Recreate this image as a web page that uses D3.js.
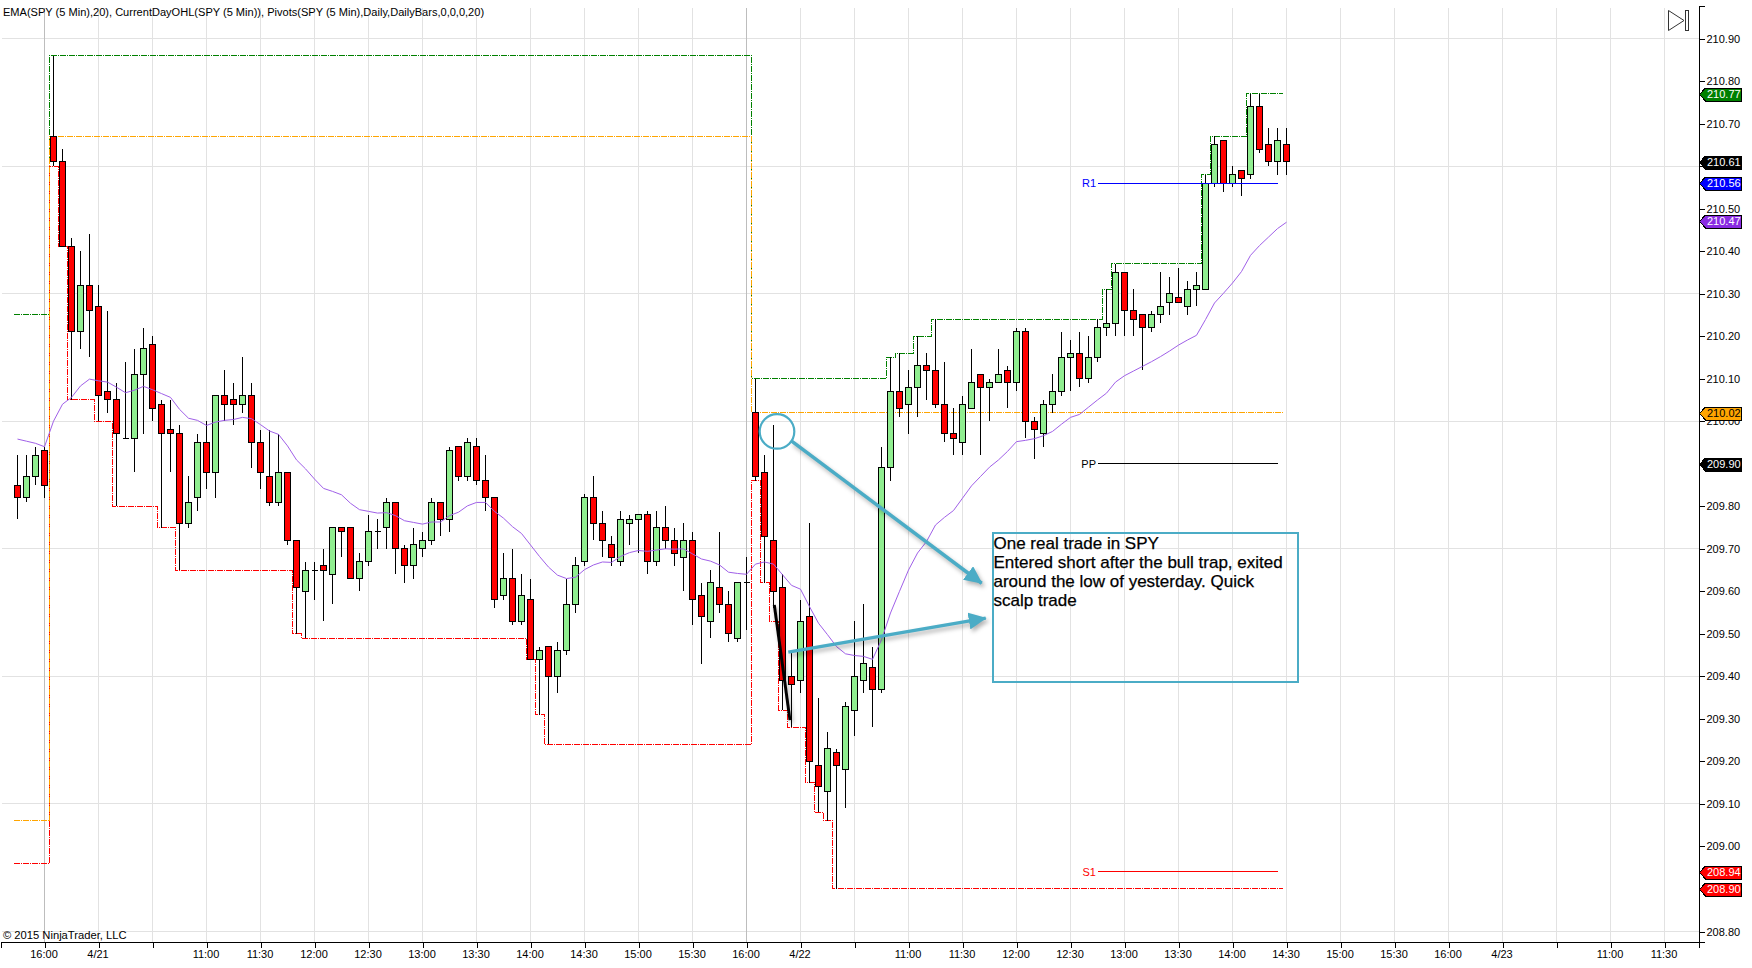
<!doctype html>
<html lang="en">
<head>
    <meta charset="UTF-8">
    <title>SPY 5 Min</title>
    <script src="https://cdnjs.cloudflare.com/ajax/libs/d3/7.8.5/d3.min.js"></script>
    <style>
        html, body {
            margin: 0;
            padding: 0;
            background: #fff;
            overflow: hidden;
        }
        text {
            font-family: "Liberation Sans", Arial, sans-serif;
            font-size: 11px;
        }
        .axis text { fill: #000; }
        .crisp { shape-rendering: crispEdges; }
    </style>
</head>
<body>
<svg id="chart" width="1752" height="968"></svg>
<script>
    // candles, one entry per 5 min bar
    const opens = [209.85,209.82,209.87,209.93,210.67,210.61,210.41,210.21,210.32,210.27,210.07,210.05,209.96,209.96,210.11,210.18,210.04,209.98,209.97,209.76,
        209.82,209.95,209.88,210.06,210.05,210.04,210.06,209.95,209.87,209.81,209.88,209.72,209.60,209.65,209.66,209.64,209.75,209.75,209.63,209.67,
        209.74,209.75,209.81,209.70,209.66,209.70,209.72,209.81,209.77,209.94,209.87,209.94,209.86,209.82,209.59,209.63,209.53,209.58,209.44,209.47,
        209.40,209.46,209.57,209.67,209.82,209.76,209.71,209.67,209.76,209.77,209.78,209.67,209.75,209.72,209.68,209.72,209.59,209.53,209.61,209.57,
        209.49,209.62,210.02,209.88,209.72,209.61,209.40,209.39,209.54,209.19,209.13,209.22,209.18,209.32,209.39,209.42,209.37,209.89,210.07,210.04,
        210.08,210.13,210.12,210.04,209.97,209.95,210.03,210.11,210.08,210.09,210.12,210.09,210.21,210.00,209.97,210.04,210.07,210.15,210.16,210.10,
        210.15,210.22,210.23,210.35,210.26,210.25,210.22,210.25,210.28,210.29,210.27,210.31,210.31,210.56,210.66,210.56,210.59,210.58,210.74,210.65,
        210.61,210.65];
    const highs = [209.92,209.92,209.94,209.94,210.86,210.64,210.43,210.40,210.44,210.32,210.26,210.09,210.14,210.17,210.22,210.20,210.05,210.05,209.99,209.87,
        209.97,210.00,210.06,210.12,210.09,210.15,210.09,209.98,209.98,209.97,209.88,209.72,209.67,209.67,209.70,209.75,209.75,209.75,209.69,209.78,
        209.77,209.82,209.81,209.71,209.75,209.74,209.82,209.81,209.94,209.94,209.96,209.96,209.92,209.82,209.69,209.70,209.64,209.63,209.47,209.47,
        209.48,209.63,209.68,209.83,209.87,209.79,209.73,209.79,209.78,209.78,209.79,209.79,209.80,209.75,209.76,209.74,209.62,209.65,209.74,209.60,
        209.62,209.68,210.10,209.92,209.99,209.64,209.46,209.58,209.76,209.35,209.27,209.23,209.34,209.53,209.57,209.47,209.94,210.15,210.16,210.12,
        210.20,210.16,210.24,210.14,210.03,210.06,210.17,210.11,210.10,210.17,210.13,210.22,210.22,210.01,210.05,210.11,210.21,210.19,210.21,210.20,
        210.24,210.31,210.37,210.35,210.31,210.25,210.26,210.35,210.34,210.36,210.33,210.35,210.58,210.67,210.66,210.60,210.59,210.77,210.77,210.69,
        210.69,210.69];
    const lows = [209.77,209.81,209.85,209.82,210.60,210.41,210.05,210.17,210.15,210.00,210.02,209.80,209.96,209.88,209.97,210.00,209.75,209.88,209.65,209.75,
        209.79,209.84,209.82,210.00,209.99,210.02,209.89,209.84,209.80,209.80,209.71,209.50,209.49,209.58,209.53,209.57,209.68,209.63,209.60,209.66,
        209.70,209.70,209.64,209.62,209.63,209.68,209.71,209.73,209.74,209.86,209.86,209.85,209.79,209.56,209.58,209.52,209.52,209.44,209.31,209.24,
        209.36,209.45,209.55,209.66,209.72,209.68,209.66,209.66,209.71,209.69,209.64,209.66,209.70,209.66,209.60,209.52,209.43,209.49,209.55,209.48,
        209.48,209.51,209.86,209.62,209.56,209.32,209.28,209.36,209.15,209.08,209.06,208.90,209.09,209.26,209.36,209.28,209.36,209.86,210.01,209.97,
        210.01,210.05,210.03,209.95,209.92,209.92,210.03,209.92,210.00,210.09,210.03,210.07,209.96,209.91,209.94,210.02,210.06,210.07,210.08,210.09,
        210.14,210.20,210.20,210.20,210.20,210.12,210.21,210.23,210.25,210.28,210.25,210.27,210.31,210.55,210.54,210.55,210.53,210.57,210.63,210.60,
        210.58,210.58];
    const closes = [209.82,209.87,209.92,209.85,210.61,210.41,210.21,210.32,210.26,210.06,210.05,209.97,209.96,210.11,210.17,210.03,209.97,209.97,209.76,209.81,
        209.95,209.88,210.06,210.04,210.04,210.06,209.95,209.88,209.81,209.88,209.72,209.61,209.65,209.65,209.65,209.75,209.74,209.63,209.67,209.74,
        209.74,209.81,209.70,209.66,209.71,209.72,209.81,209.77,209.93,209.87,209.95,209.86,209.82,209.58,209.63,209.53,209.59,209.44,209.46,209.40,
        209.46,209.57,209.66,209.82,209.76,209.72,209.68,209.77,209.77,209.78,209.67,209.75,209.72,209.69,209.72,209.58,209.54,209.62,209.57,209.50,
        209.62,209.62,209.87,209.73,209.60,209.39,209.38,209.53,209.20,209.14,209.23,209.19,209.33,209.40,209.43,209.37,209.89,210.07,210.03,210.08,
        210.13,210.12,210.04,209.97,209.96,210.04,210.09,210.08,210.09,210.11,210.09,210.21,210.00,209.98,210.04,210.07,210.15,210.16,210.10,210.15,
        210.22,210.23,210.35,210.26,210.24,210.22,210.25,210.27,210.30,210.28,210.31,210.32,210.56,210.65,210.56,210.58,210.57,210.74,210.64,210.61,
        210.66,210.61];
    const ema = [209.958,209.953,209.948,209.94,210.00,210.04,210.056,210.083,210.099,210.095,210.092,210.08,210.067,210.073,210.082,210.074,210.065,210.056,210.028,210.007,
        210.002,209.99,209.998,210.002,210.004,210.009,210.006,209.992,209.977,209.969,209.942,209.909,209.888,209.864,209.842,209.835,209.827,209.807,209.792,209.788,
        209.784,209.785,209.778,209.766,209.762,209.758,209.763,209.763,209.778,209.786,209.801,209.809,209.809,209.788,209.772,209.752,209.736,209.709,209.682,209.657,
        209.638,209.63,209.633,209.651,209.662,209.669,209.668,209.682,209.691,209.696,209.694,209.697,209.70,209.699,209.70,209.688,209.676,209.671,209.662,209.645,
        209.642,209.64,209.664,209.669,209.664,209.639,209.614,209.605,209.564,209.525,209.498,209.47,209.453,209.449,209.447,209.44,209.486,209.549,209.60,209.65,
        209.69,209.717,209.756,209.774,209.79,209.819,209.848,209.87,209.892,209.909,209.929,209.952,209.955,209.959,209.966,209.976,209.993,210.009,210.016,210.033,
        210.05,210.066,210.092,210.107,210.118,210.129,210.14,210.152,210.165,210.179,210.191,210.202,210.239,210.278,210.301,210.325,210.352,210.39,210.413,210.433,
        210.453,210.468];

    // CurrentDayOHL steps: bar where the level starts and its value
    const dayHighBars = [0,4,82,97,98,100,102,121,122,132,133,137];
    const dayHighVals = [210.25,210.86,210.10,210.15,210.16,210.20,210.24,210.31,210.37,210.58,210.67,210.77];
    const dayOpenBars = [0,4,82];
    const dayOpenVals = [209.06,210.67,210.02];
    const dayLowBars = [0,4,5,6,9,11,16,18,31,32,57,58,59,82,83,84,85,86,88,89,90,91];
    const dayLowVals = [208.96,210.60,210.41,210.05,210.00,209.80,209.75,209.65,209.50,209.49,209.44,209.31,209.24,209.86,209.62,209.53,209.32,209.28,209.15,209.08,209.06,208.90];
    const lastStepBar = 141;

    // pivots
    const pivotNames = ["R1", "PP", "S1"];
    const pivotVals = [210.56, 209.90, 208.94];
    const pivotColors = ["#0000ff", "#000000", "#ff0000"];
    const pivotBars = [120, 140];

    // axes
    const tickBars = [3,9,15,21,27,33,39,45,51,57,63,69,75,81,87,93,99,105,111,117,123,129,135,141,147,153,159,165,171,177,183];
    const tickNames = ["16:00","4/21","","11:00","11:30","12:00","12:30","13:00","13:30","14:00","14:30","15:00","15:30","16:00","4/22","",
        "11:00","11:30","12:00","12:30","13:00","13:30","14:00","14:30","15:00","15:30","16:00","4/23","","11:00","11:30"];
    const sessionBars = [3, 81];
    const priceTicks = d3.range(0, 22).map(i => +(208.8 + i * 0.1).toFixed(2));
    const gridPrices = [208.8, 209.1, 209.4, 209.7, 210.0, 210.3, 210.6, 210.9];

    // price markers on the axis
    const markerVals = [210.77, 210.61, 210.56, 210.47, 210.02, 209.90, 208.94, 208.90];
    const markerFill = ["#008000", "#000000", "#0000ff", "#8a2be2", "#ffa500", "#000000", "#ff0000", "#ff0000"];
    const markerText = ["#fff", "#fff", "#fff", "#fff", "#000", "#fff", "#fff", "#fff"];

    // drawn objects, in [bar, price]
    const circleAt = [84.39, 209.976];
    const blueArrows = [[[86.02, 209.953], [107.13, 209.619]], [[85.64, 209.457], [107.58, 209.537]]];
    const tradeLine = [[84.09, 209.568], [85.83, 209.297]];
    const noteBox = [[108.39, 209.737], [142.28, 209.387]];
    const noteLines = ["One real trade in SPY", "Entered short after the bull trap, exited", "around the low of yesterday. Quick", "scalp trade"];

    const titleText = "EMA(SPY (5 Min),20), CurrentDayOHL(SPY (5 Min)), Pivots(SPY (5 Min),Daily,DailyBars,0,0,0,20)";
    const copyText = "\u00a9 2015 NinjaTrader, LLC";

    const plotLeft = 1, plotRight = 1698.5, plotTop = 5.5, plotBottom = 941.5;
    const svg = d3.select("#chart");

    // one bar is 9px, 0.01 is about 4.25px
    const x = d3.scaleLinear()
        .domain([(plotLeft - 17.5) / 9, (plotRight - 17.5) / 9])
        .range([plotLeft, plotRight]);
    const y = d3.scaleLinear()
        .domain([210.9 - (plotBottom - 38.5) / 425.24, 210.9 + (38.5 - plotTop) / 425.24])
        .range([plotBottom, plotTop]);

    // grid
    const grid = svg.append("g").attr("class", "crisp");
    grid.selectAll(".h").data(gridPrices).enter().append("line")
        .attr("x1", 2).attr("x2", plotRight)
        .attr("y1", d => y(d)).attr("y2", d => y(d))
        .attr("stroke", "#e2e2e2");
    grid.selectAll(".v").data(tickBars).enter().append("line")
        .attr("x1", d => x(d)).attr("x2", d => x(d))
        .attr("y1", 8).attr("y2", plotBottom)
        .attr("stroke", d => sessionBars.includes(d) ? "#bdbdbd" : "#e2e2e2");

    // step line from level arrays
    function stepPath(bars, vals) {
        let d = "";
        bars.forEach((b, i) => {
            const x0 = x(b - 0.44);
            d += (i === 0 ? "M" : "L") + x0 + "," + y(vals[i]);
            const end = i < bars.length - 1 ? bars[i + 1] : lastStepBar;
            d += "L" + x(end - 0.44) + "," + y(vals[i]);
        });
        return d;
    }
    const steps = svg.append("g").attr("class", "crisp").attr("fill", "none").attr("stroke-dasharray", "6 1 1 1");
    steps.append("path").attr("d", stepPath(dayHighBars, dayHighVals)).attr("stroke", "#008000");
    steps.append("path").attr("d", stepPath(dayLowBars, dayLowVals)).attr("stroke", "#ff0000");
    steps.append("path").attr("d", stepPath(dayOpenBars, dayOpenVals)).attr("stroke", "#ffa500");

    // candles
    const candles = svg.append("g").attr("class", "crisp");
    candles.selectAll(".wick").data(opens).enter().append("line")
        .attr("x1", (d, i) => x(i)).attr("x2", (d, i) => x(i))
        .attr("y1", (d, i) => y(highs[i])).attr("y2", (d, i) => y(lows[i]))
        .attr("stroke", "#000");
    candles.selectAll(".body").data(opens).enter().append("path")
        .attr("d", (d, i) => {
            const a = y(Math.max(d, closes[i])), b = y(Math.min(d, closes[i]));
            return "M" + (x(i) - 3) + "," + a + "H" + (x(i) + 3) + "V" + b + "H" + (x(i) - 3) + "Z";
        })
        .attr("fill", (d, i) => closes[i] >= d ? "#90ee90" : "#ff0000")
        .attr("stroke", "#000");

    // EMA
    svg.append("path")
        .attr("d", d3.line().x((d, i) => x(i)).y(d => y(d))(ema))
        .attr("fill", "none")
        .attr("stroke", "#a060e8")
        .attr("stroke-width", 1);

    // pivot lines
    pivotNames.forEach((name, i) => {
        svg.append("line")
            .attr("class", "crisp")
            .attr("x1", x(pivotBars[0])).attr("x2", x(pivotBars[1]))
            .attr("y1", y(pivotVals[i])).attr("y2", y(pivotVals[i]))
            .attr("stroke", pivotColors[i]);
        svg.append("text")
            .attr("x", x(pivotBars[0]) - 1.5)
            .attr("y", y(pivotVals[i]))
            .attr("dy", "0.35em")
            .attr("text-anchor", "end")
            .attr("fill", pivotColors[i])
            .text(name);
    });

    // axes
    const axisX = d3.axisBottom(x).tickValues(tickBars).tickFormat((d, i) => tickNames[i]).tickSizeOuter(0).tickSize(6);
    svg.append("g").attr("class", "axis crisp")
        .attr("transform", "translate(0," + plotBottom + ")")
        .call(axisX)
        .call(g => g.selectAll("text").attr("dx", -1).style("font-size", "11px"));
    const axisY = d3.axisRight(y).tickValues(priceTicks).tickFormat(d3.format(".2f")).tickSizeOuter(0).tickSize(6).tickPadding(2);
    svg.append("g").attr("class", "axis crisp")
        .attr("transform", "translate(" + plotRight + ",0)")
        .call(axisY)
        .call(g => g.selectAll("text").style("font-size", "11px"));

    // price markers
    const markers = svg.append("g").selectAll("g").data(markerVals).enter().append("g")
        .attr("transform", d => "translate(0," + (Math.round(y(d)) + 0.5) + ")");
    markers.append("path")
        .attr("class", "crisp")
        .attr("d", "M1699.5,0L1705.5,-6.5H1741.5V6.5H1705.5Z")
        .attr("fill", (d, i) => markerFill[i])
        .attr("stroke", "#000");
    markers.append("text")
        .attr("x", 1707)
        .attr("dy", "0.36em")
        .attr("fill", (d, i) => markerText[i])
        .text(d => d3.format(".2f")(d));

    // drawn objects
    const blue = "#4bacc6";
    const shadow = "drop-shadow(2px 3px 2px rgba(0,0,0,0.3))";
    const defs = svg.append("defs");
    defs.append("marker")
        .attr("id", "head")
        .attr("viewBox", "0 0 18 17")
        .attr("refX", 17).attr("refY", 8.5)
        .attr("markerWidth", 18).attr("markerHeight", 17)
        .attr("markerUnits", "userSpaceOnUse")
        .attr("orient", "auto")
        .append("path")
        .attr("d", "M0,0L18,8.5L0,17Z")
        .attr("fill", blue);

    svg.append("line")
        .attr("x1", x(tradeLine[0][0])).attr("y1", y(tradeLine[0][1]))
        .attr("x2", x(tradeLine[1][0])).attr("y2", y(tradeLine[1][1]))
        .attr("stroke", "#000").attr("stroke-width", 3)
        .style("filter", shadow);
    svg.append("circle")
        .attr("cx", x(circleAt[0])).attr("cy", y(circleAt[1]))
        .attr("r", 17.3)
        .attr("fill", "none").attr("stroke", blue).attr("stroke-width", 2.2);
    blueArrows.forEach(a => {
        svg.append("line")
            .attr("x1", x(a[0][0])).attr("y1", y(a[0][1]))
            .attr("x2", x(a[1][0])).attr("y2", y(a[1][1]))
            .attr("stroke", blue).attr("stroke-width", 3.5)
            .attr("marker-end", "url(#head)")
            .style("filter", shadow);
    });
    svg.append("rect")
        .attr("class", "crisp")
        .attr("x", x(noteBox[0][0])).attr("y", y(noteBox[0][1]))
        .attr("width", x(noteBox[1][0]) - x(noteBox[0][0]))
        .attr("height", y(noteBox[1][1]) - y(noteBox[0][1]))
        .attr("fill", "none").attr("stroke", blue).attr("stroke-width", 2);
    svg.selectAll(".note").data(noteLines).enter().append("text")
        .attr("x", x(noteBox[0][0]) + 0.5)
        .attr("y", (d, i) => y(noteBox[0][1]) + 15.5 + i * 19.2)
        .attr("stroke", "#000").attr("stroke-width", 0.25)
        .style("font-size", "17px")
        .text(d => d);

    // header and footer text
    svg.append("text").attr("x", 3).attr("y", 16).style("font-size", "11.05px").text(titleText);
    svg.append("text").attr("x", 3).attr("y", 939).style("font-size", "11.2px").text(copyText);

    // go to last bar button
    const btn = svg.append("g").attr("fill", "#fff").attr("stroke", "#333");
    btn.append("path").attr("d", "M1668.5,10.5L1684,20.5L1668.5,30.5Z");
    btn.append("rect").attr("class", "crisp").attr("x", 1685.5).attr("y", 10.5).attr("width", 3).attr("height", 20);
</script>
</body>
</html>
